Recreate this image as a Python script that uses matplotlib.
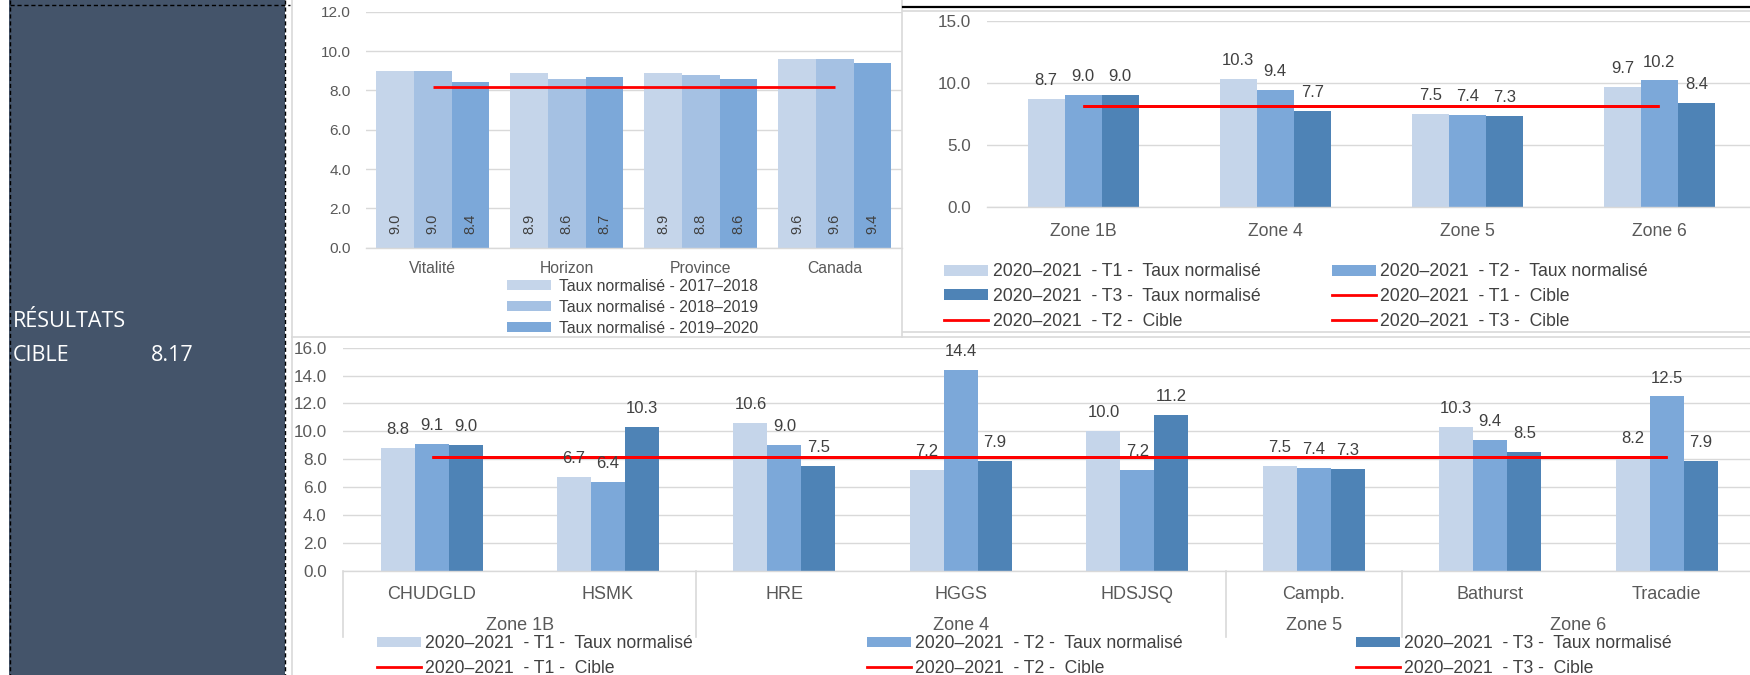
import matplotlib
matplotlib.use("Agg")
import matplotlib.pyplot as plt
from matplotlib.patches import Rectangle, Patch
from matplotlib.lines import Line2D
import numpy as np

# ---------------- data ----------------
c1_categories = ["Vitalité", "Horizon", "Province", "Canada"]
c1_series_names = ["Taux normalisé - 2017–2018", "Taux normalisé - 2018–2019", "Taux normalisé - 2019–2020"]
c1_2017 = [9.0, 8.9, 8.9, 9.6]
c1_2018 = [9.0, 8.6, 8.8, 9.6]
c1_2019 = [8.4, 8.7, 8.6, 9.4]
c1_cible = [8.17, 8.17, 8.17, 8.17]

c2_categories = ["Zone 1B", "Zone 4", "Zone 5", "Zone 6"]
c2_t1 = [8.7, 10.3, 7.5, 9.7]
c2_t2 = [9.0, 9.4, 7.4, 10.2]
c2_t3 = [9.0, 7.7, 7.3, 8.4]
c2_cible_t1 = [8.17, 8.17, 8.17, 8.17]
c2_cible_t2 = [8.17, 8.17, 8.17, 8.17]
c2_cible_t3 = [8.17, 8.17, 8.17, 8.17]

c3_categories = ["CHUDGLD", "HSMK", "HRE", "HGGS", "HDSJSQ", "Campb.", "Bathurst", "Tracadie"]
c3_zones = ["Zone 1B", "Zone 4", "Zone 5", "Zone 6"]
c3_zone_sizes = [2, 3, 1, 2]
c3_t1 = [8.8, 6.7, 10.6, 7.2, 10.0, 7.5, 10.3, 8.2]
c3_t2 = [9.1, 6.4, 9.0, 14.4, 7.2, 7.4, 9.4, 12.5]
c3_t3 = [9.0, 10.3, 7.5, 7.9, 11.2, 7.3, 8.5, 7.9]
c3_cible = [8.17] * 8

lbl_t1 = "2020–2021  - T1 -  Taux normalisé"
lbl_t2 = "2020–2021  - T2 -  Taux normalisé"
lbl_t3 = "2020–2021  - T3 -  Taux normalisé"
lbl_c1 = "2020–2021  - T1 -  Cible"
lbl_c2 = "2020–2021  - T2 -  Cible"
lbl_c3 = "2020–2021  - T3 -  Cible"

panel_title = "RÉSULTATS"
panel_cible_label = "CIBLE"
panel_cible_value = "8.17"

# ---------------- style ----------------
COL_LIGHT = "#C5D5EA"
COL_C1_MID = "#A5C1E3"
COL_MID = "#7CA8D9"
COL_DARK = "#4E83B6"
RED = "#FF0000"
GRID = "#D9D9D9"
TICK = "#595959"
LBL = "#404040"
PANEL = "#44546A"
FONT = "Liberation Sans"

plt.rcParams["font.family"] = [FONT, "DejaVu Sans"]

W, H = 1750, 675
fig = plt.figure(figsize=(W / 100, H / 100), dpi=100)
fig.patch.set_facecolor("white")


def fx(x):
    return x / W


def fy(y):
    return 1 - y / H


def add_ax(l, t, r, b):
    return fig.add_axes([fx(l), fy(b), (r - l) / W, (b - t) / H])


def style_ax(ax, ytick_fs, ypad, xtick_fs, xpad):
    for s in ["top", "right", "left"]:
        ax.spines[s].set_visible(False)
    ax.spines["bottom"].set_color(GRID)
    ax.spines["bottom"].set_linewidth(1.0)
    ax.yaxis.grid(True, color=GRID, linewidth=1.0)
    ax.set_axisbelow(True)
    ax.tick_params(axis="y", length=0, pad=ypad, labelsize=ytick_fs, labelcolor=TICK)
    ax.tick_params(axis="x", length=0, pad=xpad, labelsize=xtick_fs, labelcolor=TICK)
    ax.set_facecolor("none")


def fig_line(x0, y0, x1, y1, **kw):
    fig.add_artist(Line2D([fx(x0), fx(x1)], [fy(y0), fy(y1)], transform=fig.transFigure, **kw))


def leg_params(fs, row_px, patch_w, patch_h, pad_px):
    em = fs * 100 / 72
    return em, dict(loc="upper left", bbox_transform=fig.transFigure, frameon=False,
                    borderpad=0, borderaxespad=0, fontsize=fs,
                    handlelength=patch_w / em, handleheight=patch_h / em,
                    handletextpad=pad_px / em, labelspacing=row_px / em - 0.93,
                    labelcolor=LBL)


# ---------------- left panel ----------------
fig.add_artist(Rectangle((fx(9), 0), fx(285) - fx(9), 1, transform=fig.transFigure,
                         facecolor=PANEL, edgecolor="none", zorder=0))
dash = dict(color="black", linewidth=1.0, linestyle=(0, (3, 2)), zorder=1)
fig_line(9.5, 0, 9.5, 675, **dash)
fig_line(285, 0, 285, 675, **dash)
fig_line(9.5, 5, 290, 5, **dash)
pfont = dict(color="white", fontsize=15.5, family="Open Sans", va="baseline", ha="left")
fig.text(fx(13), fy(326.7), panel_title, **pfont)
fig.text(fx(13), fy(360.7), panel_cible_label, **pfont)
fig.text(fx(151), fy(360.7), panel_cible_value, **pfont)

# ---------------- frames ----------------
fr = dict(color=GRID, linewidth=1.2, zorder=1)
fig_line(291.7, 0, 291.7, 675, **fr)
fig_line(901.7, 0, 901.7, 336.7, **fr)
fig_line(291.7, 336.7, 1750, 336.7, **fr)
fig_line(902.7, 331.7, 1750, 331.7, **fr)
fig_line(902.7, 11, 1750, 11, **fr)
fig_line(902.7, 6.7, 1750, 6.7, color="black", linewidth=1.6, zorder=2)

# ---------------- chart 1 ----------------
ax1 = add_ax(365.7, 11.7, 901.7, 247.7)
style_ax(ax1, 11.1, 10.6, 11.3, 9.6)
x1 = np.arange(len(c1_categories))
w1 = 0.2815
for off, vals, col in [(-w1, c1_2017, COL_LIGHT), (0, c1_2018, COL_C1_MID), (w1, c1_2019, COL_MID)]:
    ax1.bar(x1 + off, vals, width=w1, color=col, linewidth=0, zorder=2)
    for xi, v in zip(x1 + off, vals):
        ax1.annotate(f"{v:.1f}", xy=(xi, 0), xytext=(0, 10), textcoords="offset points",
                     rotation=90, ha="center", va="bottom", fontsize=10.5, color=LBL, zorder=4)
ax1.plot(x1, c1_cible, color=RED, linewidth=2.0, zorder=3, solid_capstyle="butt")
ax1.set_xlim(-0.5, 3.5)
ax1.set_ylim(0, 12)
ax1.set_yticks(np.arange(0, 12.1, 2))
ax1.set_yticklabels([f"{v:.1f}" for v in np.arange(0, 12.1, 2)])
ax1.set_xticks(x1)
ax1.set_xticklabels(c1_categories)
h1 = [Patch(facecolor=c, edgecolor="none") for c in [COL_LIGHT, COL_C1_MID, COL_MID]]
em1, kw1 = leg_params(11.3, 20.5, 44, 9, 8)
ax1.legend(h1, c1_series_names, bbox_to_anchor=(fx(507), fy(286 - 0.465 * em1)), **kw1)

# ---------------- chart 2 ----------------
ax2 = add_ax(987, 21, 1755.5, 206.7)
style_ax(ax2, 12.3, 11.7, 12.7, 11.6)
x2 = np.arange(len(c2_categories))
w2 = 0.1926
for off, vals, col in [(-w2, c2_t1, COL_LIGHT), (0, c2_t2, COL_MID), (w2, c2_t3, COL_DARK)]:
    ax2.bar(x2 + off, vals, width=w2, color=col, linewidth=0, zorder=2)
    for xi, v in zip(x2 + off, vals):
        ax2.annotate(f"{v:.1f}", xy=(xi, v), xytext=(0, 10), textcoords="offset points",
                     ha="center", va="baseline", fontsize=12, color=LBL, zorder=4)
for cv in [c2_cible_t1, c2_cible_t2, c2_cible_t3]:
    ax2.plot(x2, cv, color=RED, linewidth=2.0, zorder=3, solid_capstyle="butt")
ax2.set_xlim(-0.5, 3.5)
ax2.set_ylim(0, 15)
ax2.set_yticks(np.arange(0, 15.1, 5))
ax2.set_yticklabels([f"{v:.1f}" for v in np.arange(0, 15.1, 5)])
ax2.set_xticks(x2)
ax2.set_xticklabels(c2_categories)

pT1 = Patch(facecolor=COL_LIGHT, edgecolor="none")
pT2 = Patch(facecolor=COL_MID, edgecolor="none")
pT3 = Patch(facecolor=COL_DARK, edgecolor="none")
lC = Line2D([], [], color=RED, linewidth=2.0)
em2, kw2 = leg_params(12.7, 24, 44, 10, 4.5)
top2 = fy(271.7 - 0.465 * em2)
lg = ax2.legend([pT1, pT3, lC], [lbl_t1, lbl_t3, lbl_c2], bbox_to_anchor=(fx(944), top2), **kw2)
ax2.add_artist(lg)
ax2.legend([pT2, lC, lC], [lbl_t2, lbl_c1, lbl_c3], bbox_to_anchor=(fx(1332), top2), **kw2)

# ---------------- chart 3 ----------------
ax3 = add_ax(343.3, 347.7, 1755, 570.7)
style_ax(ax3, 12.3, 12.0, 13, 11.0)
x3 = np.arange(len(c3_categories))
w3 = 0.1926
for off, vals, col in [(-w3, c3_t1, COL_LIGHT), (0, c3_t2, COL_MID), (w3, c3_t3, COL_DARK)]:
    ax3.bar(x3 + off, vals, width=w3, color=col, linewidth=0, zorder=2)
    for xi, v in zip(x3 + off, vals):
        ax3.annotate(f"{v:.1f}", xy=(xi, v), xytext=(0, 10), textcoords="offset points",
                     ha="center", va="baseline", fontsize=12, color=LBL, zorder=4,
                     annotation_clip=False)
for _ in range(3):
    ax3.plot(x3, c3_cible, color=RED, linewidth=2.0, zorder=3, solid_capstyle="butt")
ax3.set_xlim(-0.5, 7.5)
ax3.set_ylim(0, 16)
ax3.set_yticks(np.arange(0, 16.1, 2))
ax3.set_yticklabels([f"{v:.1f}" for v in np.arange(0, 16.1, 2)])
ax3.set_xticks(x3)
ax3.set_xticklabels(c3_categories)

# zone grouping (second level of x axis)
ax3_h = 570.7 - 347.7
sep_len = 66 / ax3_h
bounds = np.concatenate([[0], np.cumsum(c3_zone_sizes)]) - 0.5
for b in bounds:
    ax3.plot([b, b], [0, -sep_len], transform=ax3.get_xaxis_transform(), color=GRID,
             linewidth=1.2, clip_on=False, zorder=1)
for zname, lo, hi in zip(c3_zones, bounds[:-1], bounds[1:]):
    ax3.annotate(zname, xy=((lo + hi) / 2, 0), xycoords=("data", "axes fraction"),
                 xytext=(0, -59 * 0.72), textcoords="offset points", ha="center", va="baseline",
                 fontsize=13, color=TICK)

em3, kw3 = leg_params(12.7, 24, 44, 9.3, 4.5)
top3 = fy(643.5 - 0.465 * em3)
la = ax3.legend([pT1, lC], [lbl_t1, lbl_c1], bbox_to_anchor=(fx(376.7), top3), **kw3)
ax3.add_artist(la)
lb = ax3.legend([pT2, lC], [lbl_t2, lbl_c2], bbox_to_anchor=(fx(866.7), top3), **kw3)
ax3.add_artist(lb)
ax3.legend([pT3, lC], [lbl_t3, lbl_c3], bbox_to_anchor=(fx(1356), top3), **kw3)

fig.savefig("out.png", dpi=100)
